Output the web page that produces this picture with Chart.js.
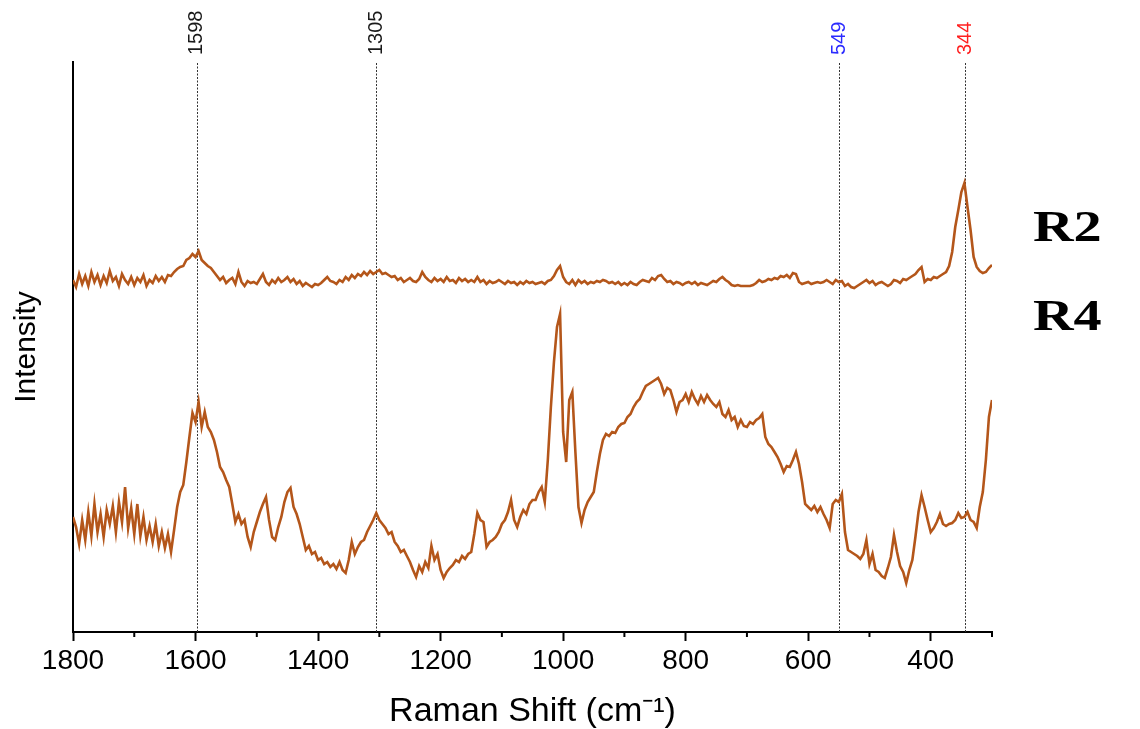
<!DOCTYPE html>
<html>
<head>
<meta charset="utf-8">
<script src="https://cdn.jsdelivr.net/npm/chart.js@4.4.1/dist/chart.umd.min.js"></script>
<style>
  html, body { margin: 0; padding: 0; background: #fff; }
  #wrap { width: 1140px; height: 729px; }
</style>
</head>
<body>
<div id="wrap"><canvas id="raman"></canvas></div>
<script>
// Raman shift grid (cm-1), sampled every 5 from 1800 down to 300
const shifts = []
for (let s = 1800; s >= 300; s -= 5) shifts.push(s)

// intensities, arbitrary units, one row = 50 cm-1
const r2Intensity = [
  352, 345, 358, 348, 356, 346, 360, 350, 357, 347, // 1800
  356, 349, 361, 351, 355, 346, 358, 352, 348, 355, // 1750
  347, 354, 350, 357, 346, 352, 349, 356, 351, 355, // 1700
  350, 357, 356, 360, 363, 365, 366, 372, 374, 378, // 1650
  375, 381, 372, 369, 366, 364, 360, 356, 352, 355, // 1600
  349, 352, 354, 348, 360, 350, 346, 351, 349, 350, // 1550
  348, 353, 358, 350, 347, 352, 349, 354, 350, 352, // 1500
  355, 350, 353, 348, 351, 346, 349, 347, 345, 348, // 1450
  347, 349, 352, 355, 351, 350, 348, 352, 350, 355, // 1400
  352, 357, 354, 358, 356, 360, 357, 361, 358, 360, // 1350
  362, 358, 359, 357, 355, 356, 352, 354, 350, 352, // 1300
  354, 351, 350, 353, 360, 355, 352, 350, 354, 351, // 1250
  353, 350, 355, 351, 352, 349, 354, 351, 353, 350, // 1200
  352, 350, 355, 350, 352, 348, 351, 349, 350, 352, // 1150
  350, 348, 351, 349, 350, 347, 350, 348, 351, 349, // 1100
  350, 348, 349, 350, 348, 351, 352, 356, 362, 366, // 1050
  355, 350, 348, 352, 347, 352, 349, 351, 348, 350, // 1000
  349, 351, 350, 352, 351, 349, 350, 348, 350, 347, // 950
  349, 347, 350, 348, 347, 350, 352, 351, 350, 354, // 900
  352, 356, 357, 353, 350, 351, 348, 350, 349, 347, // 850
  349, 350, 348, 350, 347, 349, 348, 347, 349, 351, // 800
  350, 353, 355, 352, 350, 347, 346, 347, 346, 346, // 750
  346, 346, 347, 349, 352, 350, 351, 353, 352, 354, // 700
  353, 356, 355, 357, 354, 359, 358, 350, 348, 349, // 650
  350, 348, 349, 350, 349, 350, 352, 350, 348, 352, // 600
  350, 351, 346, 348, 345, 344, 346, 348, 350, 352, // 550
  349, 351, 347, 349, 350, 348, 346, 348, 352, 351, // 500
  349, 353, 352, 354, 356, 358, 362, 365, 350, 353, // 450
  352, 355, 354, 356, 358, 360, 366, 380, 405, 422, // 400
  440, 449, 425, 402, 375, 365, 361, 359, 360, 364, // 350
  367                                                // 300
]

const r4Intensity = [
  115, 105, 88, 112, 92, 120, 96, 128, 100, 118,     // 1800
  95, 122, 108, 126, 100, 130, 110, 145, 104, 124,   // 1750
  98, 128, 96, 115, 92, 106, 90, 108, 86, 100,       // 1700
  84, 98, 80, 102, 125, 140, 147, 170, 195, 219,     // 1650
  210, 230, 205, 220, 205, 200, 192, 180, 165, 160,  // 1600
  152, 145, 128, 110, 118, 108, 112, 95, 85, 100,    // 1550
  110, 120, 128, 135, 112, 95, 92, 105, 115, 130,    // 1500
  140, 144, 125, 118, 108, 95, 82, 86, 78, 80,       // 1450
  72, 74, 68, 70, 65, 68, 63, 70, 62, 59,            // 1400
  72, 90, 78, 85, 90, 92, 100, 106, 112, 119,        // 1350
  112, 108, 104, 98, 100, 90, 86, 80, 82, 76,        // 1300
  70, 62, 55, 66, 60, 70, 64, 86, 72, 78,            // 1250
  62, 54, 60, 64, 67, 72, 70, 76, 73, 78,            // 1200
  80, 98, 119, 112, 110, 85, 90, 92, 95, 100,        // 1150
  108, 112, 120, 132, 112, 105, 115, 122, 118, 128,  // 1100
  132, 132, 140, 145, 130, 172, 225, 270, 305, 318,  // 1050
  200, 170, 232, 240, 180, 125, 109, 122, 130, 135,  // 1000
  140, 160, 178, 192, 198, 196, 200, 199, 205, 208,  // 950
  209, 215, 218, 225, 230, 233, 240, 246, 248, 250,  // 900
  252, 254, 248, 238, 244, 242, 232, 220, 230, 232,  // 850
  238, 230, 240, 233, 228, 236, 230, 237, 232, 228,  // 800
  225, 230, 218, 215, 222, 212, 215, 205, 212, 206,  // 750
  205, 210, 208, 212, 214, 218, 195, 188, 185, 180,  // 700
  175, 168, 160, 166, 165, 172, 180, 168, 150, 128,  // 650
  125, 122, 126, 120, 125, 118, 112, 104, 128, 132,  // 600
  130, 138, 100, 82, 80, 78, 76, 73, 78, 92,         // 550
  68, 78, 62, 60, 56, 54, 64, 75, 97, 80,            // 500
  66, 60, 49, 62, 72, 95, 120, 137, 125, 112,        // 450
  100, 104, 110, 118, 108, 106, 108, 109, 112, 119,  // 400
  114, 115, 120, 112, 110, 104, 125, 140, 172, 215,  // 350
  232                                                // 300
]

const seriesNames = ['R2', 'R4']
const bandPositions = [1598, 1305, 549, 344]
const bandColors = ['#1a1a1a', '#1a1a1a', '#2b2bff', '#ff1f1f']

const lineColor = '#b4561a'
const narrow = "'Liberation Sans Narrow', 'Liberation Sans', Arial, sans-serif"

// dotted band markers, rotated band labels, minor ticks and the R2 / R4 names
const bandLines = {
  id: 'bandLines',
  beforeDatasetsDraw(chart) {
    const { ctx, chartArea, scales: { x } } = chart
    ctx.save()
    ctx.lineWidth = 1
    ctx.strokeStyle = '#333'
    ctx.setLineDash([2, 1.5])
    bandPositions.forEach((b) => {
      const px = Math.round(x.getPixelForValue(b)) + 0.5
      ctx.beginPath()
      ctx.moveTo(px, chartArea.top + 1)
      ctx.lineTo(px, chartArea.bottom)
      ctx.stroke()
    })
    ctx.restore()
  },
  afterDraw(chart, args, opts) {
    const { ctx, chartArea, scales: { x, y } } = chart
    ctx.save()
    ctx.font = '20px ' + narrow
    ctx.textAlign = 'left'
    ctx.textBaseline = 'middle'
    bandPositions.forEach((b, i) => {
      ctx.save()
      ctx.translate(x.getPixelForValue(b), chartArea.top - 7)
      ctx.rotate(-Math.PI / 2)
      ctx.fillStyle = bandColors[i]
      ctx.fillText(String(b), 0, 0)
      ctx.restore()
    })

    ctx.strokeStyle = '#000'
    ctx.lineWidth = 2
    x.ticks.filter((t) => t.value % 200 !== 0).forEach((t) => {
      const px = x.getPixelForValue(t.value)
      ctx.beginPath()
      ctx.moveTo(px, chartArea.bottom)
      ctx.lineTo(px, chartArea.bottom + 5)
      ctx.stroke()
    })

    // the series names are set in a wide bold serif
    ctx.fillStyle = '#000'
    ctx.font = "bold 45px 'Liberation Serif', 'Times New Roman', serif"
    seriesNames.forEach((name, i) => {
      ctx.save()
      ctx.translate(chartArea.right + 41, y.getPixelForValue(opts.labelLevels[i]))
      ctx.scale(1.25, 1)
      ctx.fillText(name, 0, 0)
      ctx.restore()
    })
    ctx.restore()
  }
}

const toPoints = (vals) => vals.map((v, i) => ({ x: shifts[i], y: v }))

const data = {
  datasets: [
    { label: seriesNames[0], data: toPoints(r2Intensity) },
    { label: seriesNames[1], data: toPoints(r4Intensity) }
  ].map((d) => Object.assign(d, {
    borderColor: lineColor,
    borderWidth: 2.6,
    pointRadius: 0,
    tension: 0,
    fill: false
  }))
}

const config = {
  type: 'line',
  data: data,
  plugins: [bandLines],
  options: {
    responsive: true,
    maintainAspectRatio: false,
    animation: false,
    layout: { padding: { top: 62, right: 148, left: 0, bottom: 0 } },
    plugins: {
      legend: { display: false },
      tooltip: { enabled: false },
      bandLines: { labelLevels: [403, 314] }
    },
    scales: {
      x: {
        type: 'linear',
        reverse: true,
        min: 300,
        max: 1800,
        afterFit: (s) => { s.height = 97 },
        border: { display: true, color: '#000', width: 2 },
        grid: {
          display: true,
          drawOnChartArea: false,
          drawTicks: true,
          tickLength: 9,
          tickWidth: 2,
          tickColor: (c) => (c.tick && c.tick.value % 200 === 0 ? '#000' : 'rgba(0,0,0,0)')
        },
        ticks: {
          stepSize: 100,
          autoSkip: false,
          maxRotation: 0,
          padding: 3,
          color: '#000',
          font: { family: narrow, size: 28 },
          callback: (v) => (v % 200 === 0 ? String(v) : '')
        },
        title: {
          display: true,
          text: 'Raman Shift (cm\u207B\u00B9)',
          color: '#000',
          font: { family: narrow, size: 34, lineHeight: 1 },
          padding: { top: 0, bottom: 0 }
        }
      },
      y: {
        min: 0,
        max: 570,
        afterFit: (s) => { s.width = 73 },
        border: { display: true, color: '#000', width: 2 },
        grid: { display: false },
        ticks: { display: false },
        title: {
          display: true,
          text: 'Intensity',
          color: '#000',
          font: { family: narrow, size: 30, lineHeight: 1 },
          padding: { top: 12, bottom: 0 }
        }
      }
    }
  }
}

new Chart(document.getElementById('raman'), config)
</script>
</body>
</html>
